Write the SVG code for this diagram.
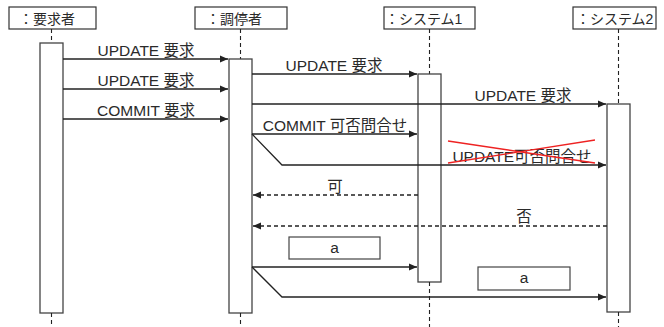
<svg xmlns="http://www.w3.org/2000/svg" width="664" height="327" viewBox="0 0 664 327">
<defs>
<marker id="ah" markerWidth="9" markerHeight="8" refX="8" refY="4" orient="auto" markerUnits="userSpaceOnUse">
<path d="M0,0.5 L8,4 L0,7.5 Z" fill="#222"/>
</marker>
<style>
.hdr{fill:#fff;stroke:#333;stroke-width:1.2}
.act{fill:#fff;stroke:#444;stroke-width:1.3}
.life{stroke:#222;stroke-width:1.1;stroke-dasharray:4,3;fill:none}
.msg{stroke:#222;stroke-width:1.3;fill:none}
.ret{stroke:#222;stroke-width:1.3;fill:none;stroke-dasharray:4,3}
.t{font-family:"Liberation Sans","Noto Sans CJK JP",sans-serif;font-size:15.5px;fill:#2a2a2a}
.h{font-family:"Liberation Sans","Noto Sans CJK JP",sans-serif;font-size:14px;fill:#2a2a2a}
.note{fill:#fff;stroke:#444;stroke-width:1.2}
.x{stroke:#ee2222;stroke-width:1.3}
</style>
</defs>

<g id="requester">
<rect class="hdr" x="9" y="7" width="87" height="22"/>
<text class="h" x="19" y="24">：要求者</text>
<line class="life" x1="51.5" y1="29" x2="51.5" y2="43"/>
<rect class="act" x="40" y="43" width="23" height="270"/>
<line class="life" x1="51.5" y1="313" x2="51.5" y2="327"/>
</g>

<g id="mediator">
<rect class="hdr" x="195" y="7" width="92" height="22"/>
<text class="h" x="206" y="24">：調停者</text>
<line class="life" x1="240.5" y1="29" x2="240.5" y2="59"/>
<rect class="act" x="229" y="59" width="23" height="254"/>
<line class="life" x1="240.5" y1="313" x2="240.5" y2="327"/>
</g>

<g id="system1">
<rect class="hdr" x="384" y="7" width="91" height="22"/>
<text class="h" x="385" y="24">：システム1</text>
<line class="life" x1="429.5" y1="29" x2="429.5" y2="74"/>
<rect class="act" x="418" y="74" width="23" height="208"/>
<line class="life" x1="429.5" y1="282" x2="429.5" y2="327"/>
</g>

<g id="system2">
<rect class="hdr" x="573" y="7" width="83" height="22"/>
<text class="h" x="576" y="24">：システム2</text>
<line class="life" x1="618.5" y1="29" x2="618.5" y2="104"/>
<rect class="act" x="607" y="104" width="23" height="208"/>
<line class="life" x1="618.5" y1="312" x2="618.5" y2="327"/>
</g>

<g id="connectors">
<line class="msg" x1="63" y1="59" x2="228" y2="59" marker-end="url(#ah)"/>
<line class="msg" x1="63" y1="89" x2="228" y2="89" marker-end="url(#ah)"/>
<line class="msg" x1="63" y1="119" x2="228" y2="119" marker-end="url(#ah)"/>
<line class="msg" x1="252" y1="74" x2="417" y2="74" marker-end="url(#ah)"/>
<line class="msg" x1="252" y1="104" x2="606" y2="104" marker-end="url(#ah)"/>
<line class="msg" x1="252" y1="134" x2="417" y2="134" marker-end="url(#ah)"/>
<polyline class="msg" points="252,134 282,165 606,165" marker-end="url(#ah)"/>
<line class="ret" x1="418" y1="195" x2="253" y2="195" marker-end="url(#ah)"/>
<line class="ret" x1="607" y1="226" x2="253" y2="226" marker-end="url(#ah)"/>
<line class="msg" x1="252" y1="267" x2="417" y2="267" marker-end="url(#ah)"/>
<polyline class="msg" points="252,267 282,297 606,297" marker-end="url(#ah)"/>
</g>

<g id="labels">
<text class="t" x="146" y="56" text-anchor="middle">UPDATE 要求</text>
<text class="t" x="146" y="86" text-anchor="middle">UPDATE 要求</text>
<text class="t" x="146" y="116" text-anchor="middle">COMMIT 要求</text>
<text class="t" x="334" y="71" text-anchor="middle">UPDATE 要求</text>
<text class="t" x="523" y="101" text-anchor="middle">UPDATE 要求</text>
<text class="t" x="335" y="131" text-anchor="middle">COMMIT 可否問合せ</text>
<text class="t" x="522" y="162" text-anchor="middle">UPDATE可否問合せ</text>
<text class="t" x="335" y="192" text-anchor="middle">可</text>
<text class="t" x="524" y="222" text-anchor="middle">否</text>
</g>

<g id="strike">
<line class="x" x1="448" y1="141" x2="595" y2="163"/>
<line class="x" x1="448" y1="163" x2="595" y2="140"/>
</g>

<g id="note-a1">
<rect class="note" x="289" y="237" width="91" height="22"/>
<text class="t" x="334.5" y="253" text-anchor="middle">a</text>
</g>
<g id="note-a2">
<rect class="note" x="478" y="267" width="92" height="23"/>
<text class="t" x="524" y="283" text-anchor="middle">a</text>
</g>
</svg>
